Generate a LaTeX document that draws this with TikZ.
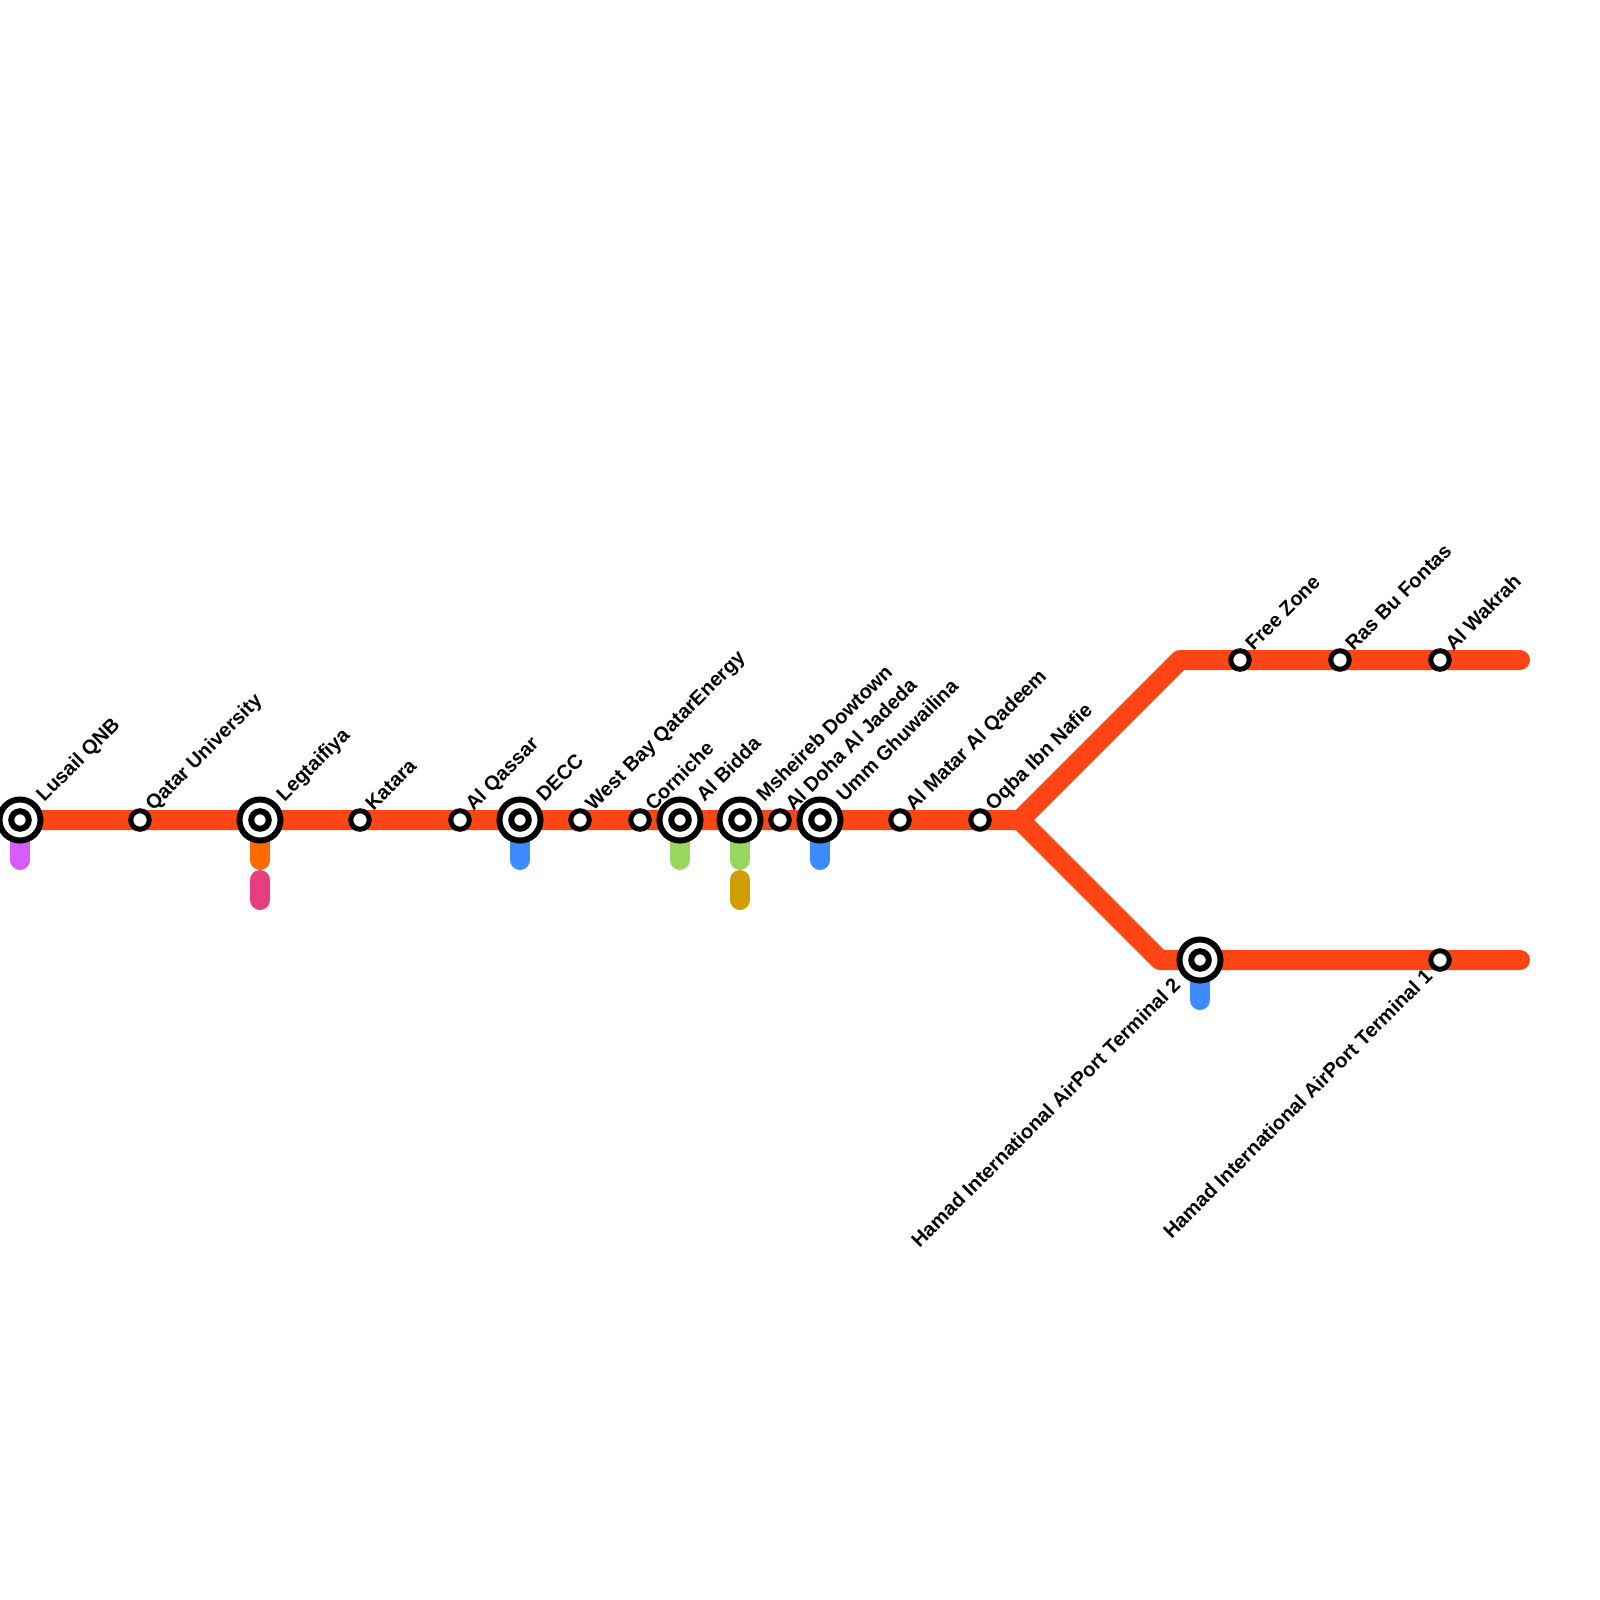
\documentclass[tikz,border=0pt]{standalone}
\usepackage{fontspec}
\setmainfont{Liberation Sans}
\definecolor{mainred}{HTML}{FF4516}
\definecolor{stubpurple}{HTML}{D65CFF}
\definecolor{stuborange}{HTML}{FF6A00}
\definecolor{stubpink}{HTML}{E63E7E}
\definecolor{stubgreen}{HTML}{98D75F}
\definecolor{stubgold}{HTML}{D09E00}
\definecolor{stubblue}{HTML}{3E8BFF}

\begin{document}
\begin{tikzpicture}[
  x=.01cm,y=-.01cm,
  metro/.style={line width=.2cm,draw=mainred,line cap=round,line join=round},
  stub/.style={line width=.2cm,line cap=round},
  stop/.style={circle,draw=black,fill=white,line width=.05cm,minimum size=.185cm,inner sep=0pt},
  hub/.style={circle,draw=black,fill=white,line width=.06cm,minimum size=.41cm,inner sep=0pt},
  hubcore/.style={circle,draw=black,fill=white,line width=.06cm,minimum size=.175cm,inner sep=0pt},
  upname/.style={rotate=45,anchor=base west,font=\fontsize{5.7}{7}\selectfont\bfseries,inner sep=0pt},
  downname/.style={rotate=45,anchor=base east,font=\fontsize{5.7}{7}\selectfont\bfseries,inner sep=0pt}
]
\useasboundingbox (0,0) rectangle (1600,1600);
% line junctions
\coordinate (fork) at (1020,820);
\coordinate (upbend) at (1180,660);
\coordinate (upend) at (1520,660);
\coordinate (downbend) at (1160,960);
\coordinate (downend) at (1520,960);
\coordinate (start) at (20,820);
% red line
\draw[metro] (start) -- (fork) -- (upbend) -- (upend);
\draw[metro] (fork) -- (downbend) -- (downend);
% interchange stubs
\coordinate (lusailA) at (20,830);
\coordinate (lusailB) at (20,860);
\coordinate (legtaifiyaA) at (260,830);
\coordinate (legtaifiyaB) at (260,860);
\coordinate (legtaifiyaC) at (260,880);
\coordinate (legtaifiyaD) at (260,900);
\coordinate (deccA) at (520,830);
\coordinate (deccB) at (520,860);
\coordinate (biddaA) at (680,830);
\coordinate (biddaB) at (680,860);
\coordinate (msheirebA) at (740,830);
\coordinate (msheirebB) at (740,860);
\coordinate (msheirebC) at (740,880);
\coordinate (msheirebD) at (740,900);
\coordinate (ummA) at (820,830);
\coordinate (ummB) at (820,860);
\coordinate (terminalA) at (1200,970);
\coordinate (terminalB) at (1200,1000);
\draw[stub,stubpurple] (lusailA) -- (lusailB);
\draw[stub,stuborange] (legtaifiyaA) -- (legtaifiyaB);
\draw[stub,stubpink] (legtaifiyaC) -- (legtaifiyaD);
\draw[stub,stubblue] (deccA) -- (deccB);
\draw[stub,stubgreen] (biddaA) -- (biddaB);
\draw[stub,stubgreen] (msheirebA) -- (msheirebB);
\draw[stub,stubgold] (msheirebC) -- (msheirebD);
\draw[stub,stubblue] (ummA) -- (ummB);
\draw[stub,stubblue] (terminalA) -- (terminalB);
% interchanges
\node[hub] (lusailhub) at (20,820) {};
\node[hub] (legtaifiyahub) at (260,820) {};
\node[hub] (decchub) at (520,820) {};
\node[hub] (biddahub) at (680,820) {};
\node[hub] (msheirebhub) at (740,820) {};
\node[hub] (ummhub) at (820,820) {};
\node[hub] (terminaltwohub) at (1200,960) {};
\node[hubcore] (lusail) at (20,820) {};
\node[hubcore] (legtaifiya) at (260,820) {};
\node[hubcore] (decc) at (520,820) {};
\node[hubcore] (bidda) at (680,820) {};
\node[hubcore] (msheireb) at (740,820) {};
\node[hubcore] (umm) at (820,820) {};
\node[hubcore] (terminaltwo) at (1200,960) {};
% stations
\node[stop] (qatar) at (140,820) {};
\node[stop] (katara) at (360,820) {};
\node[stop] (qassar) at (460,820) {};
\node[stop] (westbay) at (580,820) {};
\node[stop] (corniche) at (640,820) {};
\node[stop] (jadeda) at (780,820) {};
\node[stop] (matar) at (900,820) {};
\node[stop] (oqba) at (980,820) {};
\node[stop] (freezone) at (1240,660) {};
\node[stop] (fontas) at (1340,660) {};
\node[stop] (wakrah) at (1440,660) {};
\node[stop] (terminalone) at (1440,960) {};
% names
\node[upname] (lusailname) at (44,803) {Lusail QNB};
\node[upname] (qatarname) at (153,812) {Qatar University};
\node[upname] (legtaifiyaname) at (284,803) {Legtaifiya};
\node[upname] (kataraname) at (373,812) {Katara};
\node[upname] (qassarname) at (473,812) {Al Qassar};
\node[upname] (deccname) at (544,803) {DECC};
\node[upname] (westbayname) at (593,812) {West Bay QatarEnergy};
\node[upname] (cornichename) at (653,812) {Corniche};
\node[upname] (biddaname) at (704,803) {Al Bidda};
\node[upname] (msheirebname) at (764,803) {Msheireb Dowtown};
\node[upname] (jadedaname) at (793,812) {Al Doha Al Jadeda};
\node[upname] (ummname) at (844,803) {Umm Ghuwailina};
\node[upname] (matarname) at (913,812) {Al Matar Al Qadeem};
\node[upname] (oqbaname) at (993,812) {Oqba Ibn Nafie};
\node[upname] (freezonename) at (1253,652) {Free Zone};
\node[upname] (fontasname) at (1353,652) {Ras Bu Fontas};
\node[upname] (wakrahname) at (1453,652) {Al Wakrah};
\node[downname] (terminaltwoname) at (1182,986) {Hamad International AirPort Terminal 2};
\node[downname] (terminalonename) at (1434,977) {Hamad International AirPort Terminal 1};
\end{tikzpicture}
\end{document}
